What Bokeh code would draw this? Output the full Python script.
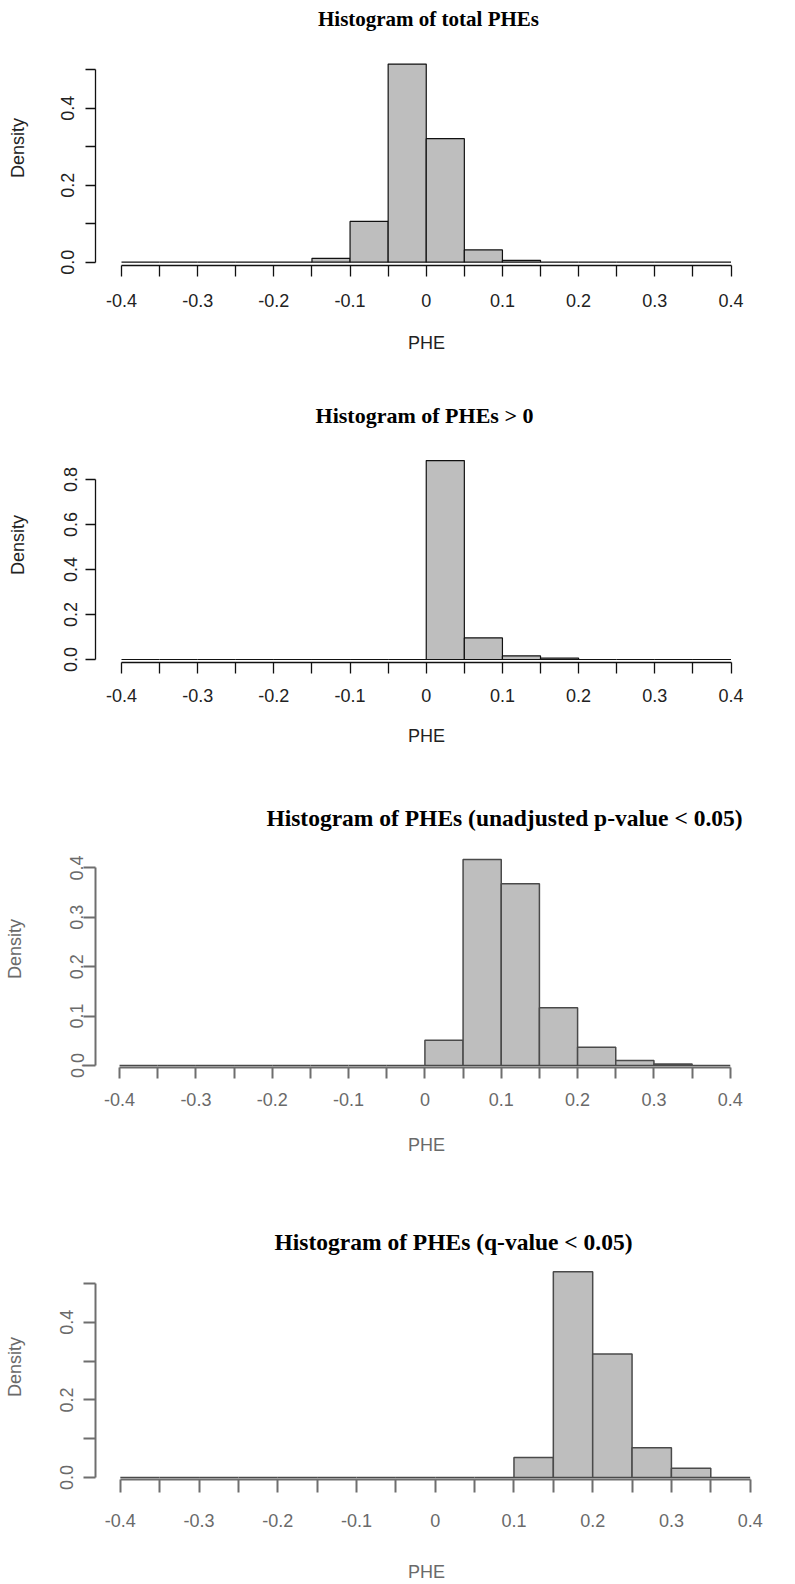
from bokeh.plotting import figure
from bokeh.models import Range1d, FixedTicker, Title
from bokeh.layouts import column
from bokeh.embed import file_html
from bokeh.resources import INLINE

# ---- data ----
bin_edges = [-0.40, -0.35, -0.30, -0.25, -0.20, -0.15, -0.10, -0.05, 0.00,
             0.05, 0.10, 0.15, 0.20, 0.25, 0.30, 0.35, 0.40]
x_tick_labels = ["-0.4", "", "-0.3", "", "-0.2", "", "-0.1", "", "0",
                 "", "0.1", "", "0.2", "", "0.3", "", "0.4"]

dens_total = [0, 0, 0, 0, 0, 0.010, 0.106, 0.515, 0.321, 0.032, 0.005, 0, 0, 0, 0, 0]
dens_positive = [0, 0, 0, 0, 0, 0, 0, 0, 0.884, 0.096, 0.016, 0.006, 0, 0, 0, 0]
dens_unadj = [0, 0, 0, 0, 0, 0, 0, 0, 0.051, 0.417, 0.368, 0.117, 0.037, 0.010, 0.003, 0]
dens_qval = [0, 0, 0, 0, 0, 0, 0, 0, 0, 0, 0.052, 0.530, 0.318, 0.077, 0.024, 0]

titles = ["Histogram of total PHEs",
          "Histogram of PHEs > 0",
          "Histogram of PHEs (unadjusted p-value < 0.05)",
          "Histogram of PHEs (q-value < 0.05)"]

y_ticks_1 = [0.0, 0.1, 0.2, 0.3, 0.4, 0.5]
y_labels_1 = ["0.0", "", "0.2", "", "0.4", ""]
y_ticks_2 = [0.0, 0.2, 0.4, 0.6, 0.8]
y_labels_2 = ["0.0", "0.2", "0.4", "0.6", "0.8"]
y_ticks_3 = [0.0, 0.1, 0.2, 0.3, 0.4]
y_labels_3 = ["0.0", "0.1", "0.2", "0.3", "0.4"]
y_ticks_4 = [0.0, 0.1, 0.2, 0.3, 0.4, 0.5]
y_labels_4 = ["0.0", "", "0.2", "", "0.4", ""]

PAGE_W = 795

# Times-Bold advance widths (per 1000 em) used to centre the titles
TB_W = {" ": 250, "(": 333, ")": 333, "-": 333, ".": 250, "0": 500, "5": 500,
        "<": 570, ">": 570, "E": 667, "H": 778, "P": 611, "a": 500, "d": 556,
        "e": 444, "f": 333, "g": 500, "i": 278, "j": 333, "l": 278, "m": 833,
        "n": 556, "o": 500, "p": 556, "q": 556, "r": 444, "s": 389, "t": 333,
        "u": 556, "v": 500}


def text_w(s, size):
    return sum(TB_W.get(c, 500) for c in s) / 1000.0 * size


def panel(dens, title, yticks, ylabels, g):
    x_per = (g["xb"] - g["xa"]) / 0.8
    xs = -0.4 - (g["xa"] - g["fl"]) / x_per
    xe = 0.4 + (g["fr"] - g["xb"]) / x_per
    ys = -(g["fb"] - g["y0"]) / g["yper"]
    ye = (g["y0"] - g["ft"]) / g["yper"]
    p = figure(width=PAGE_W, height=g["h"], output_backend="svg", toolbar_location=None,
               x_range=Range1d(xs, xe), y_range=Range1d(ys, ye),
               min_border_left=int(round(g["fl"])),
               min_border_right=int(round(PAGE_W - g["fr"])),
               min_border_top=int(round(g["ft"] - g["top"])),
               min_border_bottom=int(round(g["top"] + g["h"] - g["fb"])),
               background_fill_color="white", border_fill_color="white")
    p.outline_line_color = None
    p.xgrid.visible = False
    p.ygrid.visible = False

    p.quad(left=bin_edges[:-1], right=bin_edges[1:], top=dens, bottom=0,
           fill_color="#BEBEBE", line_color=g["bar_line"], line_width=g["bar_lw"])

    ax = p.xaxis[0]
    ax.bounds = (bin_edges[0], bin_edges[-1])
    ax.ticker = FixedTicker(ticks=bin_edges)
    ax.major_label_overrides = {t: lab for t, lab in zip(bin_edges, x_tick_labels)}
    ax.minor_tick_line_color = None
    ax.major_tick_in = 0
    ax.major_tick_out = g["xtick"]
    ax.axis_line_color = g["axis_col"]
    ax.axis_line_width = g["axis_lw"]
    ax.major_tick_line_color = g["axis_col"]
    ax.major_tick_line_width = g["axis_lw"]
    ax.major_label_text_font = "Liberation Sans"
    ax.major_label_text_font_size = g["fs"]
    ax.major_label_text_color = g["text_col"]
    ax.major_label_standoff = g["xstand"]
    ax.axis_label = "PHE"
    ax.axis_label_text_font = "Liberation Sans"
    ax.axis_label_text_font_style = "normal"
    ax.axis_label_text_font_size = g["fs"]
    ax.axis_label_text_color = g["text_col"]
    ax.axis_label_standoff = g["xlstand"]

    ay = p.yaxis[0]
    ay.bounds = (yticks[0], yticks[-1])
    ay.ticker = FixedTicker(ticks=yticks)
    ay.major_label_overrides = {t: lab for t, lab in zip(yticks, ylabels)}
    ay.minor_tick_line_color = None
    ay.major_tick_in = 0
    ay.major_tick_out = g["ytick"]
    ay.axis_line_color = g["axis_col"]
    ay.axis_line_width = g["axis_lw"]
    ay.major_tick_line_color = g["axis_col"]
    ay.major_tick_line_width = g["axis_lw"]
    ay.major_label_orientation = "parallel"
    ay.major_label_text_font = "Liberation Sans"
    ay.major_label_text_font_size = g["fs"]
    ay.major_label_text_color = g["text_col"]
    ay.major_label_standoff = g["ystand"]
    ay.axis_label = "Density"
    ay.axis_label_text_font = "Liberation Sans"
    ay.axis_label_text_font_style = "normal"
    ay.axis_label_text_font_size = g["fs"]
    ay.axis_label_text_color = g["text_col"]
    ay.axis_label_standoff = g["ylstand"]

    w = text_w(title, g["tfs"])
    p.add_layout(Title(text=title, align="left", offset=g["tx"] - w / 2 - g["fl"],
                       vertical_align="bottom", standoff=g["tstand"],
                       text_font="Liberation Serif", text_font_style="bold",
                       text_font_size=f'{g["tfs"]}px', text_color="black"), "above")
    return p


g1 = dict(top=0, h=368, fl=95, fr=757, xa=121, xb=730.5, y0=261.7, yper=384.8, fb=265, ft=30,
          tx=428, tfs=21, tstand=0, fs="18px", xtick=11, ytick=10, xstand=17, xlstand=23,
          ystand=11, ylstand=31, axis_col="#111111", axis_lw=1.3, text_col="#222222",
          bar_line="#111111", bar_lw=1.2)
g2 = dict(top=368, h=408, fl=95, fr=757, xa=121, xb=730.5, y0=659, yper=225, fb=662, ft=427,
          tx=424, tfs=22, tstand=0, fs="18px", xtick=11, ytick=10, xstand=15, xlstand=21,
          ystand=9, ylstand=33, axis_col="#111111", axis_lw=1.3, text_col="#222222",
          bar_line="#111111", bar_lw=1.2)
g3 = dict(top=776, h=416, fl=92, fr=780, xa=117, xb=751.7, y0=1065, yper=494, fb=1067, ft=830,
          tx=501, tfs=23.5, tstand=0, fs="18px", xtick=11, ytick=12, xstand=14, xlstand=26,
          ystand=0, ylstand=43, axis_col="#6e6e6e", axis_lw=2, text_col="#6a6a6a",
          bar_line="#4a4a4a", bar_lw=1.5)
g4 = dict(top=1192, h=392, fl=93, fr=786, xa=119, xb=778.3, y0=1485, yper=402, fb=1487, ft=1254,
          tx=451, tfs=23.5, tstand=0, fs="18px", xtick=13, ytick=12, xstand=21, xlstand=32,
          ystand=10, ylstand=33, axis_col="#6e6e6e", axis_lw=2, text_col="#6a6a6a",
          bar_line="#4a4a4a", bar_lw=1.5)

p1 = panel(dens_total, titles[0], y_ticks_1, y_labels_1, g1)
p2 = panel(dens_positive, titles[1], y_ticks_2, y_labels_2, g2)
p3 = panel(dens_unadj, titles[2], y_ticks_3, y_labels_3, g3)
p4 = panel(dens_qval, titles[3], y_ticks_4, y_labels_4, g4)

layout = column(p1, p2, p3, p4, spacing=0)
open("out.html", "w").write(file_html(layout, INLINE))
